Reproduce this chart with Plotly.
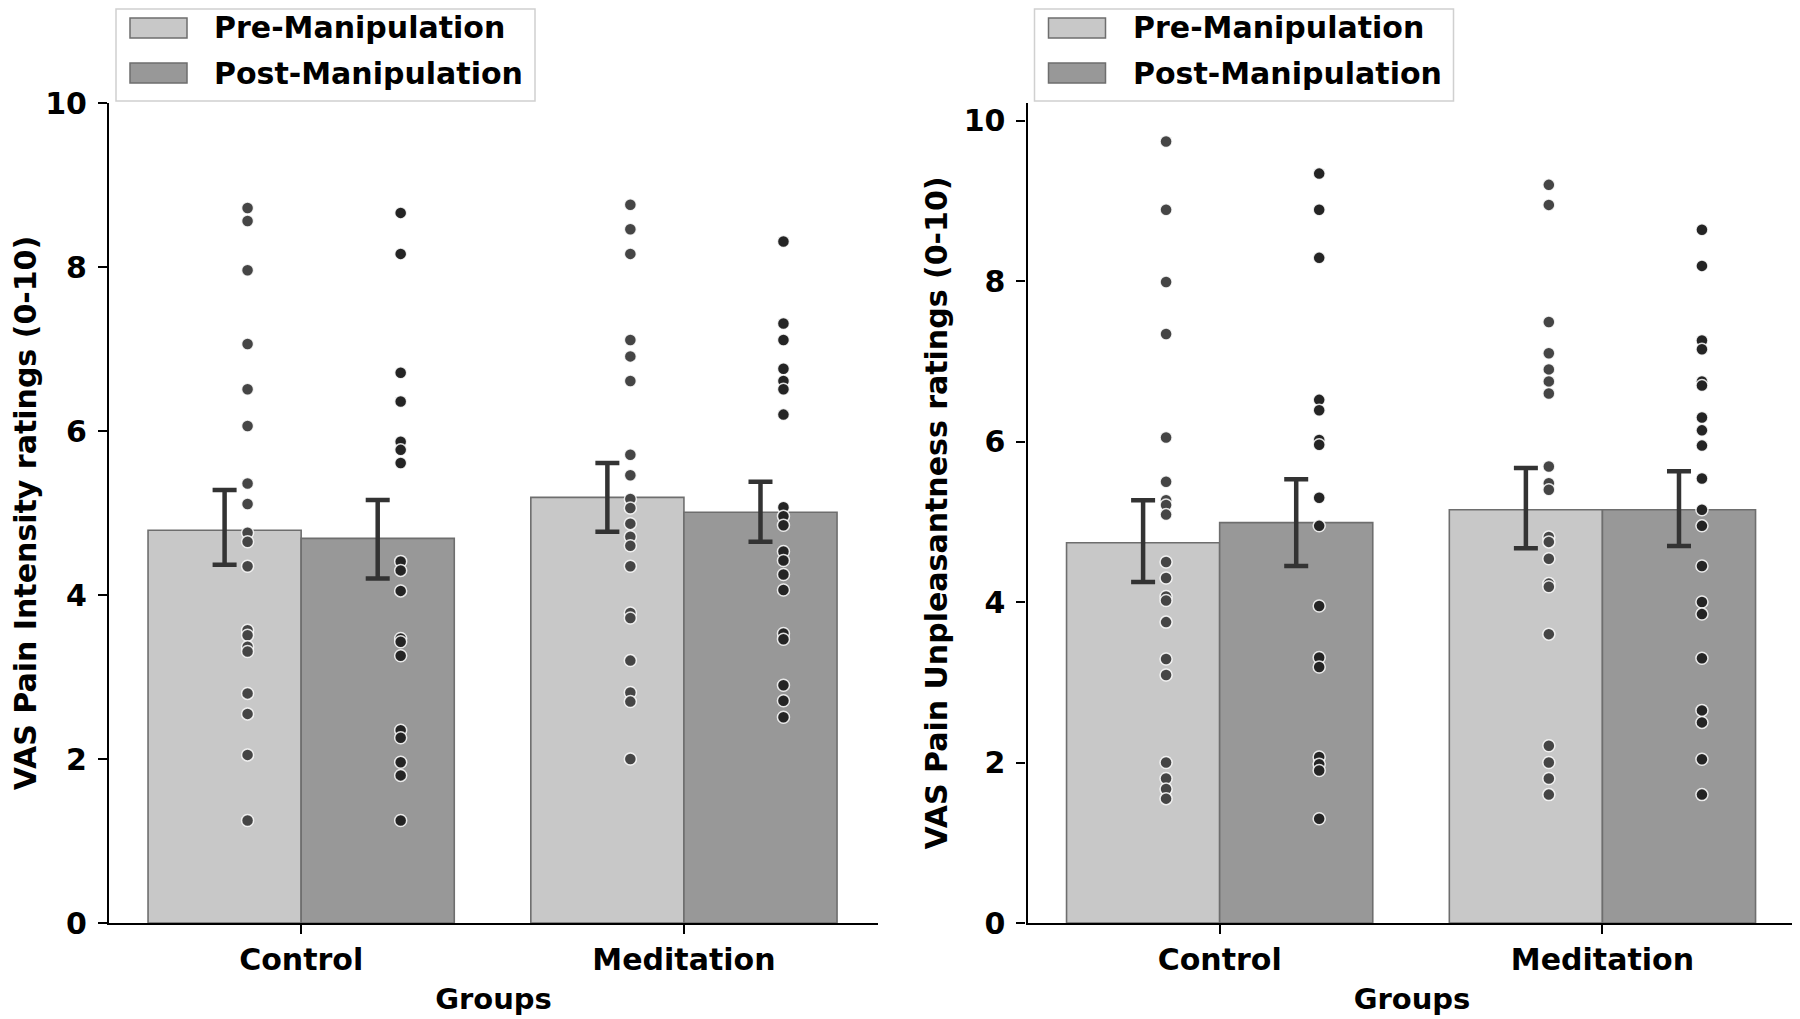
import plotly.graph_objects as go

# ---------------- data ----------------
groups = ["Control", "Meditation"]
series_names = ["Pre-Manipulation", "Post-Manipulation"]
y_ticks = [0, 2, 4, 6, 8, 10]

# Panel 1: VAS Pain Intensity
int_pre_mean = [4.79, 5.19]
int_pre_lo = [4.37, 4.77]
int_pre_hi = [5.28, 5.61]
int_post_mean = [4.69, 5.01]
int_post_lo = [4.20, 4.65]
int_post_hi = [5.16, 5.38]

int_ctrl_pre = [8.72, 8.56, 7.96, 7.06, 6.51, 6.06, 5.36, 5.11, 4.76, 4.65, 4.35,
                3.57, 3.51, 3.37, 3.31, 2.80, 2.55, 2.05, 1.25]
int_ctrl_post = [8.66, 8.16, 6.71, 6.36, 5.87, 5.77, 5.61, 4.41, 4.30, 4.05, 3.47,
                 3.43, 3.26, 2.35, 2.26, 1.96, 1.80, 1.25]
int_med_pre = [8.76, 8.46, 8.16, 7.11, 6.91, 6.61, 5.71, 5.46, 5.17, 5.06, 4.87,
               4.71, 4.60, 4.35, 3.78, 3.72, 3.20, 2.81, 2.70, 2.00]
int_med_post = [8.31, 7.31, 7.11, 6.76, 6.61, 6.51, 6.20, 5.07, 4.96, 4.85, 4.53,
                4.42, 4.25, 4.06, 3.53, 3.46, 2.90, 2.71, 2.51]

# Panel 2: VAS Pain Unpleasantness
unp_pre_mean = [4.74, 5.15]
unp_pre_lo = [4.25, 4.67]
unp_pre_hi = [5.27, 5.67]
unp_post_mean = [4.99, 5.15]
unp_post_lo = [4.45, 4.70]
unp_post_hi = [5.53, 5.63]

unp_ctrl_pre = [9.74, 8.89, 7.99, 7.34, 6.05, 5.50, 5.27, 5.21, 5.09, 4.50, 4.30,
                4.07, 4.02, 3.75, 3.29, 3.09, 2.00, 1.80, 1.67, 1.55]
unp_ctrl_post = [9.34, 8.89, 8.29, 6.52, 6.39, 6.02, 5.96, 5.30, 4.95, 3.95, 3.31,
                 3.19, 2.07, 1.98, 1.90, 1.30]
unp_med_pre = [9.20, 8.95, 7.49, 7.10, 6.90, 6.75, 6.60, 5.69, 5.48, 5.40, 4.81,
               4.75, 4.54, 4.23, 4.19, 3.60, 2.21, 2.00, 1.80, 1.60]
unp_med_post = [8.64, 8.19, 7.26, 7.15, 6.75, 6.70, 6.30, 6.14, 5.95, 5.54, 5.15,
                4.95, 4.45, 4.00, 3.85, 3.30, 2.65, 2.50, 2.04, 1.60]

# ---------------- style ----------------
PAGE_W, PAGE_H = 1800, 1019
BODY_MARGIN = 8                      # default page margin around the plot div
W, H = PAGE_W - BODY_MARGIN, PAGE_H - BODY_MARGIN
BAR_COLORS = ["#c8c8c8", "#989898"]
DOT_COLORS = ["#454545", "#242424"]
BAR_EDGE = "#6e6e6e"
ERR_COLOR = "#333333"
FONT = "DejaVu Sans"
BAR_OFFSET = [-0.2, 0.2]
DOT_OFFSET = [-0.14, 0.26]
BAR_WIDTH = 0.4


def px_x(v):
    return (v - BODY_MARGIN) / W


def px_y(v):
    return 1 - (v - BODY_MARGIN) / H


panels = [
    dict(xa="x", ya="y", xref="xaxis", yref="yaxis",
         domain_x=[109, 878], yrange=[0, 10], title_standoff=10,
         title="VAS Pain Intensity ratings (0-10)",
         means=[int_pre_mean, int_post_mean],
         lo=[int_pre_lo, int_post_lo], hi=[int_pre_hi, int_post_hi],
         dots=[[int_ctrl_pre, int_med_pre], [int_ctrl_post, int_med_post]]),
    dict(xa="x2", ya="y2", xref="xaxis2", yref="yaxis2",
         domain_x=[1027.5, 1796.5], yrange=[0, 10.22], title_standoff=7,
         title="VAS Pain Unpleasantness ratings (0-10)",
         means=[unp_pre_mean, unp_post_mean],
         lo=[unp_pre_lo, unp_post_lo], hi=[unp_pre_hi, unp_post_hi],
         dots=[[unp_ctrl_pre, unp_med_pre], [unp_ctrl_post, unp_med_post]]),
]

fig = go.Figure()
shapes = []
annotations = []
Y_TOP, Y_BOT = 103, 923

for p in panels:
    # bars with CI error bars
    for s in range(2):
        m = p["means"][s]
        fig.add_trace(go.Bar(
            x=[i + BAR_OFFSET[s] for i in range(len(groups))],
            y=m, width=BAR_WIDTH, name=series_names[s], showlegend=False,
            marker=dict(color=BAR_COLORS[s], line=dict(color=BAR_EDGE, width=1.6)),
            error_y=dict(type="data", symmetric=False,
                         array=[h - v for h, v in zip(p["hi"][s], m)],
                         arrayminus=[v - l for v, l in zip(m, p["lo"][s])],
                         color=ERR_COLOR, thickness=4.5, width=12),
            xaxis=p["xa"], yaxis=p["ya"]))
    # individual points
    for s in range(2):
        for g in range(len(groups)):
            vals = p["dots"][s][g]
            fig.add_trace(go.Scatter(
                x=[g + DOT_OFFSET[s]] * len(vals), y=vals, mode="markers",
                showlegend=False,
                marker=dict(color=DOT_COLORS[s], size=12,
                            line=dict(color="rgba(255,255,255,0.85)", width=1.5)),
                xaxis=p["xa"], yaxis=p["ya"]))

    x0 = p["domain_x"][0]
    # custom legend (matplotlib style)
    lx0 = x0 + 7
    shapes.append(dict(type="rect", xref="paper", yref="paper",
                       x0=px_x(lx0), x1=px_x(lx0 + 419), y0=px_y(101), y1=px_y(9),
                       fillcolor="white", line=dict(color="#d0d0d0", width=1.5),
                       layer="above"))
    for s, (ty0, ty1) in enumerate([(18, 38), (63, 83)]):
        shapes.append(dict(type="rect", xref="paper", yref="paper",
                           x0=px_x(lx0 + 14), x1=px_x(lx0 + 71),
                           y0=px_y(ty1), y1=px_y(ty0),
                           fillcolor=BAR_COLORS[s], line=dict(color=BAR_EDGE, width=1.5),
                           layer="above"))
        annotations.append(dict(xref="paper", yref="paper",
                                x=px_x(lx0 + 96), y=px_y((ty0 + ty1) / 2),
                                xanchor="left", yanchor="middle", showarrow=False,
                                text=series_names[s],
                                font=dict(family=FONT, size=30, color="black", weight="bold")))

axis_font = dict(family=FONT, size=30, color="black", weight="bold")
layout_axes = {}
for p in panels:
    xk = p["xref"]
    yk = p["yref"]
    layout_axes[xk] = dict(
        domain=[px_x(p["domain_x"][0]), px_x(p["domain_x"][1])],
        range=[-0.502, 1.507], tickvals=list(range(len(groups))), ticktext=groups,
        anchor=p["ya"], showline=True, linecolor="black", linewidth=2.2,
        ticks="outside", ticklen=9, tickwidth=2.2, tickcolor="black",
        showgrid=False, zeroline=False, tickfont=axis_font, automargin=False,
        title=dict(text="Groups", font=dict(family=FONT, size=29, color="black", weight="bold"),
                   standoff=13))
    layout_axes[yk] = dict(
        domain=[px_y(Y_BOT), px_y(Y_TOP)], range=p["yrange"], tickvals=y_ticks,
        anchor=p["xa"], showline=True, linecolor="black", linewidth=2.2,
        ticks="outside", ticklen=9, tickwidth=2.2, tickcolor="black",
        ticklabelstandoff=5,
        showgrid=False, zeroline=False, tickfont=axis_font, automargin=False,
        title=dict(text=p["title"], font=axis_font, standoff=p["title_standoff"]))

fig.update_layout(
    width=W, height=H, autosize=False,
    margin=dict(l=0, r=0, t=0, b=0, autoexpand=False),
    paper_bgcolor="white", plot_bgcolor="white",
    barmode="overlay", showlegend=False,
    shapes=shapes, annotations=annotations,
    **layout_axes)

fig.write_html("out.html")
